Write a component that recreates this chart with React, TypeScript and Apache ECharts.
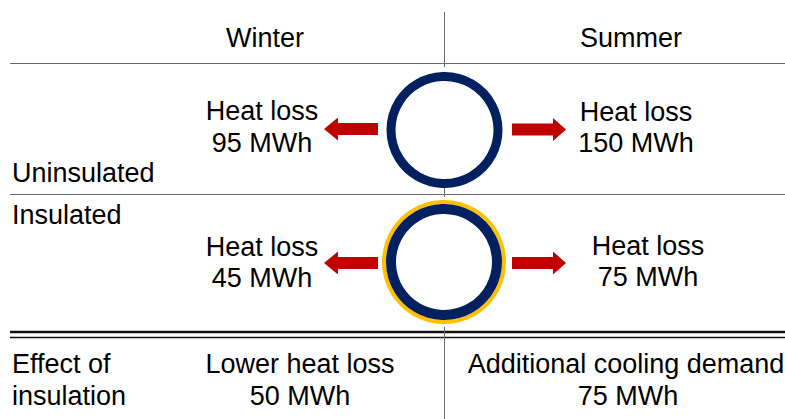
import React, { useEffect, useRef } from "react";
import * as echarts from "echarts";

const seasons = ["Winter", "Summer"];
const conditions = ["Uninsulated", "Insulated"];
const heatLossLabel = "Heat loss";
const uninsulatedLoss = [95, 150];
const insulatedLoss = [45, 75];
const effectLabels = ["Lower heat loss", "Additional cooling demand"];
const effectValues = [50, 75];
const rowTitle = ["Effect of", "insulation"];
const unit = "MWh";

const FONT = "Liberation Sans, Arial, sans-serif";
const FS = 27;
const NAVY = "#002060";
const YELLOW = "#FFC000";
const RED = "#C00000";
const GRID = "#6b6b6b";

function txt(text: string, x: number, y: number, align: string = "center") {
  return {
    type: "text",
    style: {
      text,
      x,
      y,
      textAlign: align,
      textVerticalAlign: "middle",
      fontSize: FS,
      fontFamily: FONT,
      fill: "#000",
    },
  };
}

function hline(y: number, w = 1, color = GRID) {
  return {
    type: "line",
    shape: { x1: 10, y1: y, x2: 785, y2: y },
    style: { stroke: color, lineWidth: w },
  };
}

function vline(y1: number, y2: number) {
  return {
    type: "line",
    shape: { x1: 444.5, y1, x2: 444.5, y2 },
    style: { stroke: GRID, lineWidth: 1 },
  };
}

function arrow(dir: number, cy: number) {
  const body = 6;
  const head = 11.5;
  let pts: number[][];
  if (dir < 0) {
    const tip = 324, hb = 338, tail = 378;
    pts = [[tip, cy], [hb, cy - head], [hb, cy - body], [tail, cy - body], [tail, cy + body], [hb, cy + body], [hb, cy + head]];
  } else {
    const tip = 566, hb = 553, tail = 512;
    pts = [[tip, cy], [hb, cy - head], [hb, cy - body], [tail, cy - body], [tail, cy + body], [hb, cy + body], [hb, cy + head]];
  }
  return { type: "polygon", shape: { points: pts }, style: { fill: RED } };
}

export default function App() {
  const ref = useRef<HTMLDivElement>(null);
  useEffect(() => {
    if (!ref.current) return;
    const chart = echarts.init(ref.current, null, { renderer: "svg" });
    const winterX = 262;
    const summerX = 636;
    const elements: any[] = [
      hline(63.5),
      hline(194.5),
      hline(332, 2.5, "#111"),
      hline(337.5, 1.5, "#111"),
      vline(12, 67),
      vline(186, 197),
      vline(327, 419),
      txt(seasons[0], 265, 38),
      txt(seasons[1], 631, 38),
      txt(heatLossLabel, winterX, 111),
      txt(`${uninsulatedLoss[0]} ${unit}`, winterX, 143),
      txt(heatLossLabel, summerX, 112),
      txt(`${uninsulatedLoss[1]} ${unit}`, summerX, 143),
      txt(conditions[0], 12, 173, "left"),
      arrow(-1, 129),
      arrow(1, 129.5),
      {
        type: "circle",
        shape: { cx: 444.5, cy: 130, r: 53.5 },
        style: { fill: "#fff", stroke: NAVY, lineWidth: 9 },
      },
      txt(conditions[1], 12, 215, "left"),
      txt(heatLossLabel, winterX, 247),
      txt(`${insulatedLoss[0]} ${unit}`, winterX, 278),
      txt(heatLossLabel, 648, 246),
      txt(`${insulatedLoss[1]} ${unit}`, 648, 277),
      arrow(-1, 263),
      arrow(1, 263),
      {
        type: "circle",
        shape: { cx: 444, cy: 262, r: 60 },
        style: { fill: "#fff", stroke: YELLOW, lineWidth: 4 },
      },
      {
        type: "circle",
        shape: { cx: 444, cy: 262, r: 53 },
        style: { fill: "#fff", stroke: NAVY, lineWidth: 10 },
      },
      txt(rowTitle[0], 12, 364, "left"),
      txt(rowTitle[1], 12, 396, "left"),
      txt(effectLabels[0], 300, 364),
      txt(`${effectValues[0]} ${unit}`, 300, 396),
      txt(effectLabels[1], 626, 364),
      txt(`${effectValues[1]} ${unit}`, 628, 396),
    ];
    chart.setOption({
      animation: false,
      backgroundColor: "#fff",
      graphic: { elements },
    });
    return () => chart.dispose();
  }, []);
  return (
    <div
      ref={ref}
      style={{ position: "fixed", left: 0, top: 0, width: 785, height: 419 }}
    />
  );
}
